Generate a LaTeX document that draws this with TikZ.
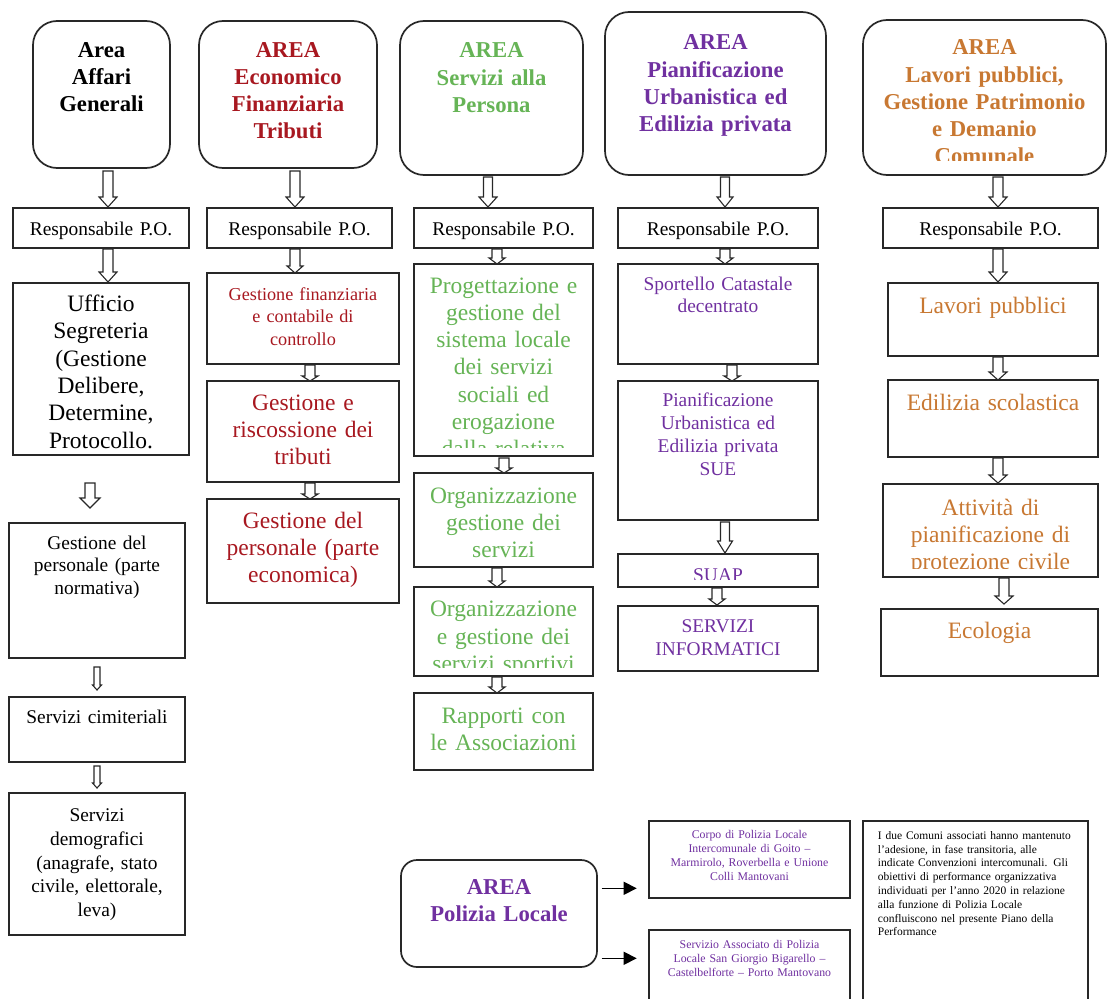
\documentclass[tikz,border=0pt]{standalone}
\usepackage{fontspec}
\setmainfont{Liberation Serif}
\usetikzlibrary{arrows.meta,calc}
\definecolor{cred}{RGB}{168,24,32}
\definecolor{cgreen}{RGB}{102,180,86}
\definecolor{cpurple}{RGB}{112,48,160}
\definecolor{corange}{RGB}{200,120,50}
\definecolor{cline}{RGB}{40,40,40}
\tikzset{
 boxsty/.style={draw=cline, line width=1.7pt, fill=white, inner sep=0pt, outer sep=0pt},
 rboxsty/.style={boxsty, rounded corners=24pt},
 ttl/.style={font=\fontsize{22.7}{27.2}\selectfont\bfseries, align=center, inner sep=0pt},
 tbig/.style={font=\fontsize{23.5}{27.3}\selectfont, align=center, inner sep=0pt},
 tmed/.style={font=\fontsize{19.4}{22.8}\selectfont, align=center, inner sep=0pt},
 tdem/.style={font=\fontsize{19.4}{23.7}\selectfont, align=center, inner sep=0pt},
 tsml/.style={font=\fontsize{18.2}{22.5}\selectfont, align=center, inner sep=0pt},
 ttiny/.style={font=\fontsize{11.8}{14.2}\selectfont, align=center, inner sep=0pt},
 blockarr/.style={draw=cline, line width=1.1pt, fill=white, line join=miter},
 solidarr/.style={draw=black, line width=1.4pt, -{Triangle[length=13pt,width=13pt]}},
}
% box: name, x1, y1, x2, y2, text style, first baseline, clip y, text
\newcommand\bx[9]{%
 \node[boxsty, minimum width={(#4-#2)*1pt}, minimum height={(#5-#3)*1pt}, anchor=north west] (#1) at (#2,#3) {};
 \begin{scope}\clip (#2,#3) rectangle (#4,#8);
 \node[#6, text width={(#4-#2)*1pt}, anchor=base] (#1t) at ({(#2+#4)/2},#7) {#9};
 \end{scope}}
\newcommand\rbx[9]{%
 \node[rboxsty, minimum width={(#4-#2)*1pt}, minimum height={(#5-#3)*1pt}, anchor=north west] (#1) at (#2,#3) {};
 \begin{scope}\clip (#2,#3) rectangle (#4,#8);
 \node[#6, text width={(#4-#2)*1pt}, anchor=base] (#1t) at ({(#2+#4)/2},#7) {#9};
 \end{scope}}
% block arrow: from, to, x, shaft half, head half, head length, start gap, end gap
\newcommand\barr[8]{%
 \draw[blockarr] let \p1=(#1.south), \p2=(#2.north) in
 ({(#3-#4)*1pt},{\y1-#7*1pt}) -- ({(#3+#4)*1pt},{\y1-#7*1pt}) --
 ({(#3+#4)*1pt},{\y2+(#8+#6)*1pt}) -- ({(#3+#5)*1pt},{\y2+(#8+#6)*1pt}) --
 ({#3*1pt},{\y2+#8*1pt}) -- ({(#3-#5)*1pt},{\y2+(#8+#6)*1pt}) --
 ({(#3-#4)*1pt},{\y2+(#8+#6)*1pt}) -- cycle;}
\begin{document}
\begin{tikzpicture}[x=1pt,y=-1pt]
\clip (0,0) rectangle (1107,998);
\fill[white] (0,0) rectangle (1107,998);
% ---------- Column 1
\rbx{A1}{33}{21}{170}{168}{ttl}{57}{168}{Area\\Affari\\Generali}
\bx{R1}{13}{208}{189}{248}{tmed}{235}{248}{Responsabile P.O.}
\bx{U1}{13}{283}{189}{455}{tbig}{311.5}{449}{Ufficio\\Segreteria\\(Gestione\\Delibere,\\Determine,\\Protocollo.}
\bx{P1}{9}{523}{185}{658}{tmed}{549}{658}{Gestione del\\personale (parte\\normativa)}
\bx{C1}{9}{697}{185}{762}{tmed}{723}{762}{Servizi cimiteriali}
\bx{D1}{9}{793}{185}{935}{tdem}{821.7}{935}{Servizi\\demografici\\(anagrafe, stato\\civile, elettorale,\\leva)}
\barr{A1}{R1}{108}{5}{9}{10}{3}{1}
\barr{R1}{U1}{108}{5}{9}{10}{1}{1}
\barr{U1}{P1}{90}{5}{10}{10}{28}{15}
\barr{P1}{C1}{97}{3}{4.5}{5}{9}{7}
\barr{C1}{D1}{97}{3}{4.5}{5}{4}{5}
% ---------- Column 2
\rbx{A2}{199}{21}{377}{168}{ttl,text=cred}{57}{168}{AREA\\Economico\\Finanziaria\\Tributi}
\bx{R2}{207}{208}{392}{248}{tmed}{235}{248}{Responsabile P.O.}
\bx{G2a}{207}{273}{399}{364}{tsml,text=cred}{300}{364}{Gestione finanziaria\\e contabile di\\controllo}
\bx{G2b}{207}{381}{399}{482}{tbig,text=cred}{410}{482}{Gestione e\\riscossione dei\\tributi}
\bx{G2c}{207}{499}{399}{603}{tbig,text=cred}{528}{603}{Gestione del\\personale (parte\\economica)}
\barr{A2}{R2}{295}{5}{9}{10}{3}{1}
\barr{R2}{G2a}{295}{5}{8}{7}{1}{0}
\barr{G2a}{G2b}{310}{5}{8}{5}{1}{0}
\barr{G2b}{G2c}{310}{5}{8}{5}{1}{0}
% ---------- Column 3
\rbx{A3}{400}{21}{583}{175}{ttl,text=cgreen}{58}{175}{AREA\\Servizi alla\\Persona}
\bx{R3}{414}{208}{593}{248}{tmed}{235}{248}{Responsabile P.O.}
\bx{S3a}{414}{264}{593}{456}{tbig,text=cgreen}{293}{447}{Progettazione e\\gestione del\\sistema locale\\dei servizi\\sociali ed\\erogazione\\dalla relativa}
\bx{S3b}{414}{473}{593}{567}{tbig,text=cgreen}{503}{567}{Organizzazione\\gestione dei\\servizi}
\bx{S3c}{414}{587}{593}{676}{tbig,text=cgreen}{616.7}{667}{Organizzazione\\e gestione dei\\servizi sportivi}
\bx{S3d}{414}{693}{593}{770}{tbig,text=cgreen}{723}{770}{Rapporti con\\le Associazioni}
\barr{A3}{R3}{488}{4.5}{9}{10}{2}{1}
\barr{R3}{S3a}{497}{5}{8}{6}{1}{0}
\barr{S3a}{S3b}{504}{5}{8}{5}{2}{0}
\barr{S3b}{S3c}{497}{5}{8}{6}{1}{0}
\barr{S3c}{S3d}{497}{5}{8}{6}{1}{0}
% ---------- Column 4
\rbx{A4}{605}{12}{826}{175}{ttl,text=cpurple}{50}{175}{AREA\\Pianificazione\\Urbanistica ed\\Edilizia privata}
\bx{R4}{618}{208}{818}{248}{tmed}{235}{248}{Responsabile P.O.}
\bx{P4a}{618}{264}{818}{364}{tmed,text=cpurple}{290}{364}{Sportello Catastale\\decentrato}
\bx{P4b}{618}{381}{818}{520}{tmed,text=cpurple}{406.7}{520}{Pianificazione\\Urbanistica ed\\Edilizia privata\\SUE}
\bx{P4c}{618}{554}{818}{587}{tmed,text=cpurple}{581}{579}{SUAP}
\bx{P4d}{618}{606}{818}{671}{tmed,text=cpurple}{632.7}{671}{SERVIZI\\INFORMATICI}
\barr{A4}{R4}{725}{4.5}{8}{10}{2}{1}
\barr{R4}{P4a}{725}{5}{8}{6}{1}{0}
\barr{P4a}{P4b}{732}{5}{8}{5}{1}{0}
\barr{P4b}{P4c}{725}{4.5}{7.5}{12}{2}{1}
\barr{P4c}{P4d}{717}{5}{8}{6}{1}{1}
% ---------- Column 5
\rbx{A5}{863}{20}{1106}{175}{ttl,text=corange}{55}{160}{AREA\\Lavori pubblici,\\Gestione Patrimonio\\e Demanio\\Comunale}
\bx{R5}{883}{208}{1098}{248}{tmed}{235}{248}{Responsabile P.O.}
\bx{L5a}{888}{283}{1098}{356}{tbig,text=corange}{313}{356}{Lavori pubblici}
\bx{L5b}{888}{380}{1098}{457}{tbig,text=corange}{410}{457}{Edilizia scolastica}
\bx{L5c}{883}{484}{1098}{577}{tbig,text=corange}{515}{568}{Attività di\\pianificazione di\\protezione civile}
\bx{L5d}{881}{609}{1098}{676}{tbig,text=corange}{638}{676}{Ecologia}
\barr{A5}{R5}{998}{5}{9}{10}{2}{1}
\barr{R5}{L5a}{998}{5}{9}{10}{1}{1}
\barr{L5a}{L5b}{998}{5}{9}{8}{1}{0}
\barr{L5b}{L5c}{998}{5}{9}{8}{1}{1}
\barr{L5c}{L5d}{1004}{5}{9}{8}{1}{5}
% ---------- Polizia Locale
\node[boxsty, rounded corners=16pt, minimum width=196pt, minimum height=107pt, anchor=north west] (PL) at (401,860) {};
\node[ttl, text=cpurple, text width=196pt, anchor=base] (PLt) at (499,894.3) {AREA\\Polizia Locale};
\bx{CP}{649}{821}{850}{898}{ttiny,text=cpurple}{838.3}{898}{Corpo di Polizia Locale\\Intercomunale di Goito –\\Marmirolo, Roverbella e Unione\\Colli Mantovani}
\bx{SA}{649}{930}{850}{1010}{ttiny,text=cpurple}{948.3}{1010}{Servizio Associato di Polizia\\Locale San Giorgio Bigarello –\\Castelbelforte – Porto Mantovano}
\node[boxsty, minimum width=225pt, minimum height=190pt, anchor=north west] (NT) at (863,821) {};
\node[font=\fontsize{11.5}{13.8}\selectfont, align=left, text width=205pt, inner sep=0pt, anchor=base west] (NTt) at (877.7,839.3) {I due Comuni associati hanno mantenuto\\l’adesione, in fase transitoria, alle\\indicate Convenzioni intercomunali. Gli\\obiettivi di performance organizzativa\\individuati per l’anno 2020 in relazione\\alla funzione di Polizia Locale\\confluiscono nel presente Piano della\\Performance};
\draw[solidarr, shorten <=4.7pt, shorten >=12.3pt] let \p1=([yshift=25.2pt]PL.east), \p2=(CP.west) in (\p1) -- (\x2,\y1);
\draw[solidarr, shorten <=4.7pt, shorten >=12.3pt] let \p1=([yshift=-44.8pt]PL.east), \p2=(SA.west) in (\p1) -- (\x2,\y1);
\end{tikzpicture}
\end{document}
